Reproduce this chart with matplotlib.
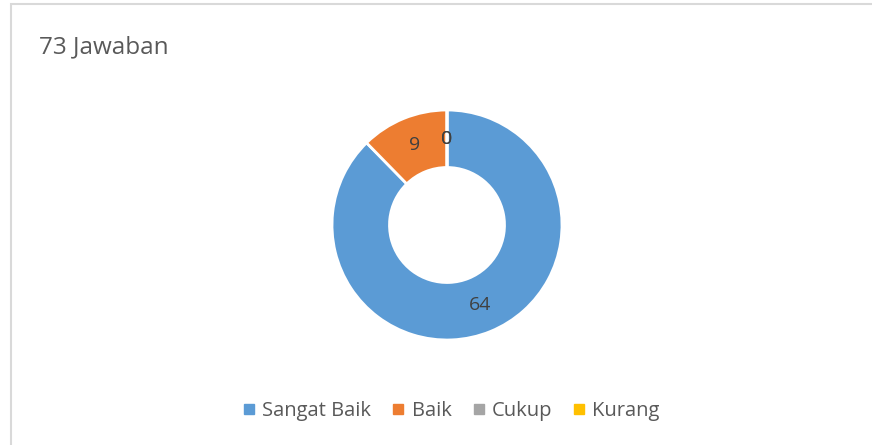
import numpy as np
import matplotlib.pyplot as plt
from matplotlib.lines import Line2D
from matplotlib.patches import Rectangle

plt.rcParams['font.family'] = ['Open Sans', 'DejaVu Sans']

categories = ["Sangat Baik", "Baik", "Cukup", "Kurang"]
values = [64, 9, 0, 0]
colors = ["#5B9BD5", "#ED7D31", "#A5A5A5", "#FFC000"]
total_label = "73 Jawaban"

fig = plt.figure(figsize=(8.72, 4.45), dpi=100)

# light chart frame
fig.patches.append(Rectangle((11 / 872, -0.1), 1.2, 1 - 4 / 445 + 0.1,
                             transform=fig.transFigure, fill=False,
                             edgecolor="#D9D9D9", linewidth=1.5))

fig.text(39 / 872, 1 - 47 / 445, total_label, fontsize=17.5,
         color="#595959", va="center", ha="left")

ax = fig.add_axes([(447 - 115) / 872, (445 - 225 - 115) / 445,
                   230 / 872, 230 / 445])
wedges, _ = ax.pie(values, colors=colors, startangle=90, counterclock=False,
                   radius=1, wedgeprops=dict(width=0.5, edgecolor="white",
                                             linewidth=2))
ax.set_xlim(-1, 1)
ax.set_ylim(-1, 1)
ax.set_aspect("equal")
ax.axis("off")

# data labels at ring midpoint
total = sum(values)
start = 90.0
for v in values:
    sweep = v / total * 360
    mid = np.deg2rad(start - sweep / 2)
    ax.text(0.75 * np.cos(mid), 0.75 * np.sin(mid), str(v), fontsize=14,
            color="#404040", ha="center", va="center")
    start -= sweep

handles = [Line2D([0], [0], marker="s", linestyle="", markersize=7,
                  markerfacecolor=c, markeredgecolor=c) for c in colors]
fig.legend(handles, categories, loc="center", ncol=4, frameon=False,
           bbox_to_anchor=(451 / 872, 1 - 411 / 445), fontsize=14.5,
           labelcolor="#595959", handlelength=0.7, handletextpad=0.3,
           columnspacing=1.0)

fig.savefig("out.png", dpi=100)
